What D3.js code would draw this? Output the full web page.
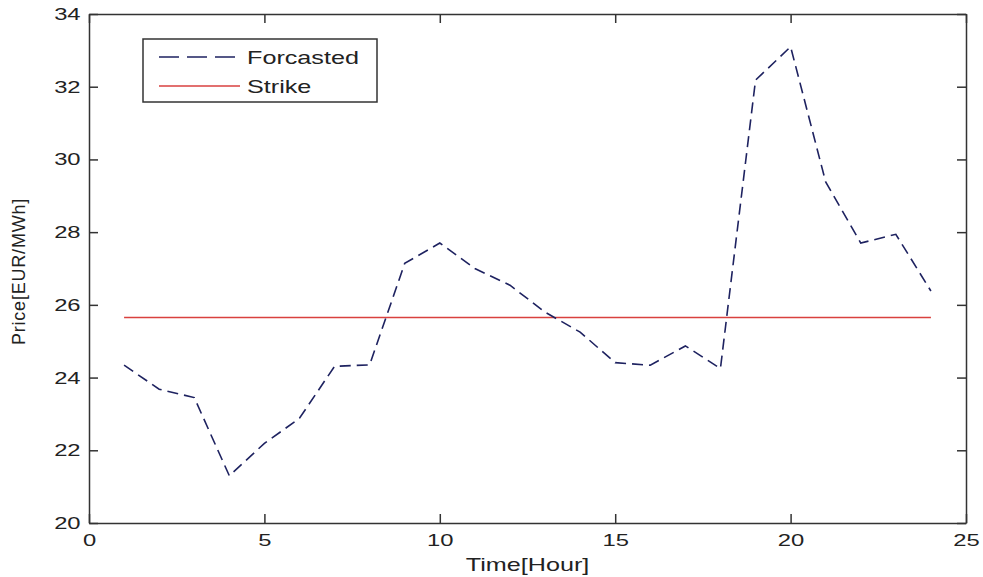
<!DOCTYPE html>
<html lang="en">
<head>
<meta charset="utf-8">
<title>Forcasted price vs strike</title>
<script src="https://d3js.org/d3.v7.min.js"></script>
<style>
  body { margin: 0; background: #fff; }
  text { font-family: "Liberation Sans", Arial, sans-serif; fill: #222; }
</style>
</head>
<body>
<svg width="983" height="577"></svg>
<script>
  // hourly forecast
  const hours = [1, 2, 3, 4, 5, 6, 7, 8, 9, 10, 11, 12, 13, 14, 15, 16, 17, 18, 19, 20, 21, 22, 23, 24];
  const forcasted = [24.34, 23.68, 23.45, 21.3, 22.19, 22.88, 24.31, 24.35, 27.14, 27.7, 27.0, 26.54,
                     25.8, 25.25, 24.41, 24.34, 24.87, 24.25, 32.18, 33.1, 29.38, 27.7, 27.94, 26.38];
  const strike = 25.65;
  const xTicks = [0, 5, 10, 15, 20, 25];
  const yTicks = [20, 22, 24, 26, 28, 30, 32, 34];

  let svg = d3.select("svg"),
      margin = { top: 14, right: 17, bottom: 54, left: 89 },
      width = +svg.attr("width") - margin.left - margin.right,
      height = +svg.attr("height") - margin.top - margin.bottom,
      g = svg.append("g").attr("transform", "translate(" + margin.left + "," + margin.top + ")");

  let x = d3.scaleLinear().domain([0, 25]).range([0, width]);
  let y = d3.scaleLinear().domain([20, 34]).range([height, 0]);

  const tick = 9;
  const stretch = "scale(1.4,1)"; // the source text is wide, like an old bitmap font

  // MATLAB-style box with inward ticks on all four sides
  function styleAxis(sel) {
    sel.select(".domain").attr("stroke", "#333").attr("stroke-width", 1.5);
    sel.selectAll(".tick line").attr("stroke", "#333").attr("stroke-width", 1.5);
    sel.selectAll("text")
      .style("font-size", "17px")
      .attr("fill", "#222")
      .attr("font-family", "Liberation Sans, Arial, sans-serif")
      .attr("transform", stretch);
  }

  g.append("g")
    .attr("transform", "translate(0," + height + ")")
    .call(d3.axisBottom(x).tickValues(xTicks).tickSizeInner(-tick).tickSizeOuter(0).tickPadding(10.5))
    .call(styleAxis);

  g.append("g")
    .call(d3.axisTop(x).tickValues(xTicks).tickSizeInner(-tick).tickSizeOuter(0).tickFormat(""))
    .call(styleAxis);

  g.append("g")
    .call(d3.axisLeft(y).tickValues(yTicks).tickSizeInner(-tick).tickSizeOuter(0).tickPadding(6))
    .call(styleAxis);

  g.append("g")
    .attr("transform", "translate(" + width + ",0)")
    .call(d3.axisRight(y).tickValues(yTicks).tickSizeInner(-tick).tickSizeOuter(0).tickFormat(""))
    .call(styleAxis);

  // strike level
  g.append("line")
    .attr("x1", x(hours[0])).attr("x2", x(hours[hours.length - 1]))
    .attr("y1", y(strike)).attr("y2", y(strike))
    .attr("stroke", "#d9413f").attr("stroke-width", 1.5);

  // forecast
  let line = d3.line()
    .x((d, i) => x(hours[i]))
    .y(d => y(d));

  g.append("path")
    .datum(forcasted)
    .attr("fill", "none")
    .attr("stroke", "#1e2260")
    .attr("stroke-width", 1.6)
    .attr("stroke-dasharray", "11,6")
    .attr("d", line);

  // axis titles
  svg.append("text")
    .attr("transform", "translate(" + (margin.left + width / 2) + ",571) " + stretch)
    .attr("text-anchor", "middle").style("font-size", "18px")
    .text("Time[Hour]");

  svg.append("text")
    .attr("transform", "translate(25," + (margin.top + height / 2 + 3) + ") rotate(-90)")
    .attr("text-anchor", "middle").style("font-size", "18px")
    .style("letter-spacing", "0.8px")
    .text("Price[EUR/MWh]");

  // legend
  let legend = svg.append("g").attr("transform", "translate(143,39)");
  legend.append("rect")
    .attr("width", 234).attr("height", 63)
    .attr("fill", "#fff").attr("stroke", "#333").attr("stroke-width", 1.5);

  const legendItems = [
    { label: "Forcasted", color: "#1e2260", dash: "20,8" },
    { label: "Strike", color: "#d9413f", dash: null }
  ];

  legendItems.forEach((d, i) => {
    let row = legend.append("g").attr("transform", "translate(0," + (18 + i * 29) + ")");
    row.append("line")
      .attr("x1", 16).attr("x2", 97)
      .attr("stroke", d.color).attr("stroke-width", 1.6)
      .attr("stroke-dasharray", d.dash);
    row.append("text")
      .attr("transform", "translate(104,7) " + stretch)
      .style("font-size", "18px")
      .text(d.label);
  });
</script>
</body>
</html>
